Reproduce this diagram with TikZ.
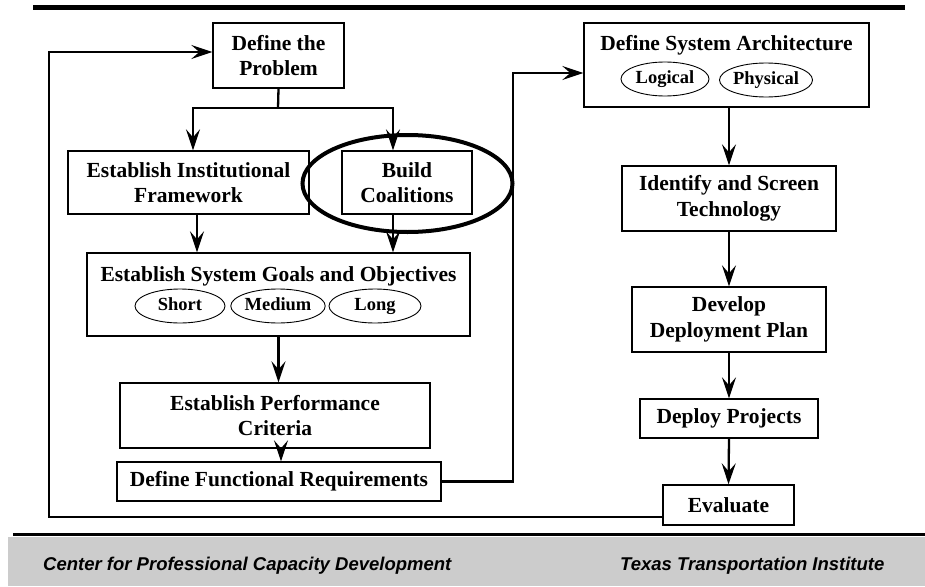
\documentclass[tikz,border=0pt]{standalone}
\usepackage{fontspec}
\setmainfont{Liberation Serif}
\newfontfamily\footfont{Liberation Sans}
\usetikzlibrary{arrows.meta,shapes.geometric}
\definecolor{bandgray}{HTML}{CCCCCC}
\tikzset{
  box/.style={draw, line width=1.4pt, inner sep=0pt, align=center,
    font=\bfseries\fontsize{21.5}{25.5}\selectfont},
  ttl/.style={inner sep=0pt, anchor=base, font=\bfseries\fontsize{21.5}{25.5}\selectfont},
  oval/.style={draw, ellipse, line width=0.9pt, inner sep=0pt,
    minimum height=34pt, text height=12.5pt, text depth=4pt,
    font=\bfseries\fontsize{18.5}{22}\selectfont},
  conn/.style={line width=2.3pt},
  arr/.style={line width=2.3pt, -{Stealth[length=21pt,width=14pt,inset=8pt]}},
  foot/.style={inner sep=0pt, anchor=base west, font=\footfont\bfseries\itshape\fontsize{18.5}{22}\selectfont},
}
\begin{document}
\begin{tikzpicture}[x=1pt,y=-1pt]
\useasboundingbox (0,0) rectangle (925,586);
% header / footer
\draw[line width=5pt] (33,7.5) -- (905,7.5);
\fill[bandgray] (8,537) rectangle (925,586);
\draw[line width=3pt] (13,534.5) -- (925,534.5);
\node[foot] (f1) at (43,570) {Center for Professional Capacity Development};
\node[foot] (f2) at (620,570) {Texas Transportation Institute};

% left column
\node[box, minimum width=131pt, minimum height=65pt] (P) at (278.5,55.5) {Define the\\Problem};
\node[box, minimum width=241pt, minimum height=63pt] (I) at (188.5,182.5) {Establish Institutional\\Framework};
\node[box, minimum width=130pt, minimum height=63pt] (B) at (407,182.5) {Build\\Coalitions};
\node[box, minimum width=383pt, minimum height=83pt] (G) at (278.5,294.5) {};
\node[ttl] (Gt) at (278.5,281) {Establish System Goals and Objectives};
\node[oval, minimum width=90pt] (o1) at (180,306) {Short};
\node[oval, minimum width=92pt] (o2) at (278,306) {Medium};
\node[oval, minimum width=92pt] (o3) at (375,306) {Long};
\node[box, minimum width=310pt, minimum height=65pt] (Pf) at (275,415.5) {Establish Performance\\Criteria};
\node[box, minimum width=324pt, minimum height=39pt] (F) at (279,481.5) {Define Functional Requirements};

% right column
\node[box, minimum width=285pt, minimum height=84pt] (A) at (726.5,65) {};
\node[ttl] (At) at (726.5,50) {Define System Architecture};
\node[oval, minimum width=88pt] (o4) at (665,79) {Logical};
\node[oval, minimum width=90pt] (o5) at (766,80) {Physical};
\node[box, minimum width=214pt, minimum height=65pt] (Id) at (729,198.5) {Identify and Screen\\Technology};
\node[box, minimum width=194pt, minimum height=65pt] (Dv) at (729,319.5) {Develop\\Deployment Plan};
\node[box, minimum width=178pt, minimum height=39pt] (Dp) at (729,418.5) {Deploy Projects};
\node[box, minimum width=131pt, minimum height=40pt] (E) at (728.5,505) {Evaluate};

% highlight ellipse
\node[draw, ellipse, line width=4pt, minimum width=210pt, minimum height=97pt] (hl) at (407.5,183.5) {};

% connectors
\coordinate (j) at (278,108);
\draw[conn] (P.south) -- (j);
\draw[arr] (j) -| ([xshift=4.5pt]I.north);
\draw[arr] (j) -| ([xshift=-14pt]B.north);
\draw[arr] ([xshift=8.5pt]I.south) -- ([xshift=8.5pt]I.south |- G.north);
\draw[arr] ([xshift=-14pt]B.south) -- ([xshift=-14pt]B.south |- G.north);
\draw[arr] (G.south) -- (G.south |- Pf.north);
\draw[arr] ([xshift=6pt]Pf.south) -- ([xshift=6pt]Pf.south |- F.north);
\coordinate (rv) at (513,300);
\draw[arr] (F.east) -- (F.east -| rv) -- ([yshift=-8pt]A.west -| rv) -- ([yshift=-8pt]A.west);
\draw[arr] (Id.north |- A.south) -- (Id.north);
\draw[arr] (Id.south) -- (Dv.north);
\draw[arr] (Dv.south) -- (Dp.north);
\draw[arr] (Dp.south) -- (E.north);
\coordinate (fb) at (49,300);
\draw[arr] ([yshift=-12pt]E.west) -- ([yshift=-12pt]E.west -| fb) -- ([yshift=3.5pt]P.west -| fb) -- ([yshift=3.5pt]P.west);
\end{tikzpicture}
\end{document}
